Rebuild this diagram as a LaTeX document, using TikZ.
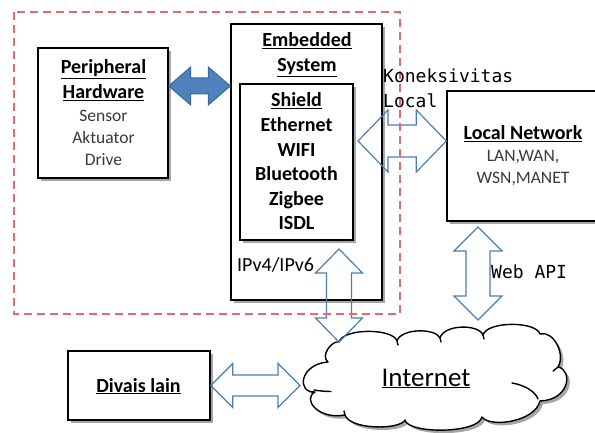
\documentclass[tikz,border=0pt]{standalone}
\usepackage{fontspec}
\setmainfont{Carlito}
\setmonofont{DejaVu Sans Mono}
\usetikzlibrary{calc,shadows}

\definecolor{arrowline}{HTML}{4A7EBB}
\definecolor{arrowfill}{HTML}{4F81BD}
\definecolor{arrowdark}{HTML}{3A679E}
\definecolor{zonered}{HTML}{E46A6A}
\definecolor{itemgray}{HTML}{3A3A3A}

% double-headed block arrow between two named points:
% [style]{from}{to}{half head width}{half shaft width}{head length}
\newcommand\blockarrow[6][]{%
  \draw[#1] (#2)
    -- ($(#2)!#6!(#3)!#4!90:(#3)$) -- ($(#2)!#6!(#3)!#5!90:(#3)$)
    -- ($(#3)!#6!(#2)!#5!-90:(#2)$) -- ($(#3)!#6!(#2)!#4!-90:(#2)$)
    -- (#3)
    -- ($(#3)!#6!(#2)!#4!90:(#2)$) -- ($(#3)!#6!(#2)!#5!90:(#2)$)
    -- ($(#2)!#6!(#3)!#5!-90:(#3)$) -- ($(#2)!#6!(#3)!#4!-90:(#3)$)
    -- cycle;}

% centred stack of lines whose reference point is the first baseline
\newcommand\linestack[1]{\begin{tabular}[t]{@{}c@{}}#1\end{tabular}}

% outline of the internet cloud, one curve per puff
\newcommand\cloudoutline{(339,342)
  .. controls (343,328) and (393,328) .. (397,341)
  .. controls (401,328) and (436,328) .. (440,338)
  .. controls (444,324) and (479,324) .. (483,335)
  .. controls (487,321) and (536,321) .. (540,334)
  .. controls (553,330) and (566,354) .. (558,367)
  .. controls (573,370) and (570,400) .. (540,401)
  .. controls (535,422) and (490,428) .. (482,417)
  .. controls (478,434) and (408,434) .. (405,420)
  .. controls (400,430) and (350,430) .. (345,415)
  .. controls (318,420) and (302,399) .. (315,392)
  .. controls (296,393) and (300,364) .. (328,362)
  .. controls (320,356) and (332,340) .. (339,342) -- cycle}

\tikzset{
  box/.style={draw=black, line width=1.4pt, fill=white, rectangle, inner sep=0pt,
    drop shadow={shadow xshift=3pt, shadow yshift=-3pt, fill=black, opacity=0.35}},
  headtxt/.style={inner sep=0pt, anchor=base, font=\fontsize{20}{25}\selectfont\bfseries},
  itemtxt/.style={inner sep=0pt, anchor=base, text=itemgray, font=\fontsize{17.5}{22}\selectfont},
  monotxt/.style={inner sep=0pt, anchor=base west, font=\fontsize{18}{25}\selectfont\ttfamily},
  hollow/.style={draw=arrowline, line width=1.2pt, line join=miter},
  solid/.style={draw=arrowdark, fill=arrowfill, line width=1pt, line join=miter},
  curl/.style={draw=black, line width=1.4pt, line cap=round},
}

\begin{document}
\begin{tikzpicture}[x=1pt, y=-1pt]
\useasboundingbox (0,0) rectangle (595,433);
\clip (0,0) rectangle (595,433);

% boxes
\node[box, minimum width=130pt, minimum height=130pt] (per) at (103,113) {};
\node[box, minimum width=151pt, minimum height=276pt] (emb) at (306.5,162) {};
\node[box, minimum width=113pt, minimum height=156pt] (shield) at (296.5,162) {};
\node[box, minimum width=158pt, minimum height=130pt] (lnet) at (526,156) {};
\node[box, minimum width=142pt, minimum height=69pt] (div) at (139,385.5) {};

% texts inside the boxes
\node[headtxt] (perh) at (103.5,74) {\linestack{\underline{Peripheral}\\\underline{Hardware}}};
\node[itemtxt] (peri) at (103.5,122) {\linestack{Sensor\\Aktuator\\Drive}};
\node[headtxt] (embh) at (307,47) {\linestack{\underline{Embedded}\\\underline{System}}};
\node[headtxt, font=\fontsize{20}{24.6}\selectfont\bfseries] (shi) at (296.5,107)
  {\linestack{\underline{Shield}\\Ethernet\\WIFI\\Bluetooth\\Zigbee\\ISDL}};
\node[inner sep=0pt, anchor=base west, font=\fontsize{20}{24}\selectfont] (ipv) at (237,272) {IPv4/IPv6};
\node[headtxt] (lneth) at (523,140) {\underline{Local Network}};
\node[itemtxt] (lneti) at (523,162) {\linestack{LAN,WAN,\\WSN,MANET}};
\node[headtxt] (divh) at (138.5,392) {\underline{Divais lain}};

% arrow end points
\coordinate (pa) at (per.east |- 0,86);
\coordinate (pb) at (emb.west |- 0,86);
\coordinate (sa) at (358,141);
\coordinate (sb) at (lnet.west |- 0,141);
\coordinate (ia) at (339,249);
\coordinate (ib) at (339,342);
\coordinate (wa) at (478,227);
\coordinate (wb) at (478,320);
\coordinate (da) at (div.east);
\coordinate (db) at (300,385.5);

% internet cloud with its shadow and the inner strokes of the puffs
\coordinate (net) at (435,378);
\fill[black, opacity=0.35, xshift=3pt, yshift=-3pt] \cloudoutline;
\draw[black, line width=1.4pt, fill=white, line join=round] \cloudoutline;
\draw[curl] (314,390) .. controls (320,391) and (326,391.5) .. (331,391.5);
\draw[curl] (512,383) .. controls (524,385) and (535,391) .. (538,399);
\draw[curl] (558,367) -- (553,371);
\draw[curl] (397,341) -- (398,345);
\draw[curl] (440,338) -- (441,342);
\draw[curl] (483,335) -- (484,339);
\draw[curl] (345,415) -- (344,411);
\node[inner sep=0pt, anchor=base, font=\fontsize{27}{30}\selectfont] (nett) at (426,386) {\underline{Internet}};

% connectors
\blockarrow[solid]{pa}{pb}{19pt}{8pt}{22pt}
\blockarrow[hollow]{sa}{sb}{31pt}{16pt}{30pt}
\blockarrow[hollow]{ia}{ib}{23.5pt}{12.5pt}{24pt}
\blockarrow[hollow]{wa}{wb}{24pt}{12pt}{24pt}
\blockarrow[hollow]{da}{db}{22pt}{10.5pt}{22pt}

% local zone
\draw[zonered, line width=1.2pt, dash pattern=on 8pt off 5pt] (14,12) rectangle (400,314);

% connector labels
\node[monotxt] (kon) at (383,83) {Koneksivitas};
\node[monotxt] (loc) at (383,108) {Local};
\node[monotxt] (web) at (491,278) {Web API};
\end{tikzpicture}
\end{document}
